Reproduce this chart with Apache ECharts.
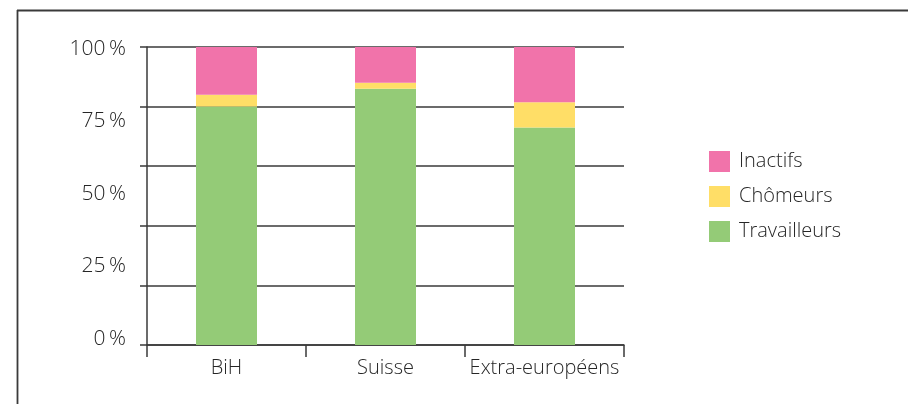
<!DOCTYPE html>
<html>
<head>
<meta charset="utf-8">
<style>
  html, body { margin: 0; padding: 0; background: #fff; }
  #chart { width: 908px; height: 404px; }
</style>
<script src="https://cdn.jsdelivr.net/npm/echarts@6/dist/echarts.min.js"></script>
</head>
<body>
<div id="chart"></div>
<script>
// Groups compared
const categories = ['BiH', 'Suisse', 'Extra-européens'];

// Share of each group (in %), stacked bottom to top
const travailleurs = [80, 86, 73];
const chomeurs = [4, 2, 8.5];
const inactifs = [16, 12, 18.5];

// Labels of the percentage scale
const yTickLabels = ['0\u2009%', '25\u2009%', '50\u2009%', '75\u2009%', '100\u2009%'];

const FONT = '"Open Sans", "Noto Sans", sans-serif';
const WEIGHT = 300;
const INK = '#262626';
const LINE = '#3a3a3a';

const chart = echarts.init(document.getElementById('chart'), null, { renderer: 'canvas' });

const option = {
  animation: false,
  backgroundColor: '#ffffff',
  textStyle: { fontFamily: FONT, fontWeight: WEIGHT },
  graphic: [
    // frame around the figure
    { type: 'line', shape: { x1: 17, y1: 10.5, x2: 908, y2: 10.5 }, style: { stroke: '#3a3a3a', lineWidth: 1.8 } },
    { type: 'line', shape: { x1: 17.5, y1: 10, x2: 17.5, y2: 404 }, style: { stroke: '#3a3a3a', lineWidth: 1.8 } }
  ],
  grid: [
    { left: 147, right: 284, top: 47, bottom: 59 },
    { left: 147, right: 284, top: 49, bottom: 65 }
  ],
  legend: {
    orient: 'vertical',
    left: 704,
    top: 145,
    itemWidth: 21,
    itemHeight: 21,
    itemGap: 12,
    icon: 'rect',
    data: ['Inactifs', 'Chômeurs', 'Travailleurs'],
    textStyle: { fontFamily: FONT, fontWeight: WEIGHT, fontSize: 20, color: INK, lineHeight: 21, padding: [2, 0, 0, 4] }
  },
  xAxis: [
    {
      type: 'category',
      gridIndex: 0,
      data: categories,
      boundaryGap: true,
      axisLine: { show: true, lineStyle: { color: LINE, width: 1.5 } },
      axisTick: { show: true, interval: 0, length: 12, alignWithLabel: false, lineStyle: { color: LINE, width: 1.5 } },
      axisLabel: { interval: 0, fontFamily: FONT, fontWeight: WEIGHT, fontSize: 20, color: INK, margin: 13 }
    },
    { type: 'category', gridIndex: 1, data: categories, show: false }
  ],
  yAxis: [
    {
      type: 'value',
      gridIndex: 0,
      min: 0,
      max: 100,
      interval: 20,
      axisLine: { show: true, lineStyle: { color: LINE, width: 1.5 } },
      axisTick: { show: true, length: 7, lineStyle: { color: LINE, width: 1.5 } },
      axisLabel: { show: false },
      splitLine: { show: true, lineStyle: { color: LINE, width: 1.5 } }
    },
    {
      type: 'value',
      gridIndex: 1,
      min: 0,
      max: 100,
      interval: 25,
      axisLine: { show: false },
      axisTick: { show: false },
      splitLine: { show: false },
      axisLabel: {
        fontFamily: FONT,
        fontWeight: WEIGHT,
        fontSize: 21,
        color: INK,
        margin: 21,
        formatter: (v) => yTickLabels[Math.round(v / 25)]
      }
    }
  ],
  series: [
    {
      name: 'Travailleurs', type: 'bar', stack: 'total', barWidth: 61,
      xAxisIndex: 0, yAxisIndex: 0,
      itemStyle: { color: '#94CB77' }, data: travailleurs
    },
    {
      name: 'Chômeurs', type: 'bar', stack: 'total', barWidth: 61,
      xAxisIndex: 0, yAxisIndex: 0,
      itemStyle: { color: '#FFDE67' }, data: chomeurs
    },
    {
      name: 'Inactifs', type: 'bar', stack: 'total', barWidth: 61,
      xAxisIndex: 0, yAxisIndex: 0,
      itemStyle: { color: '#F173AA' }, data: inactifs
    }
  ]
};

chart.setOption(option);
</script>
</body>
</html>
